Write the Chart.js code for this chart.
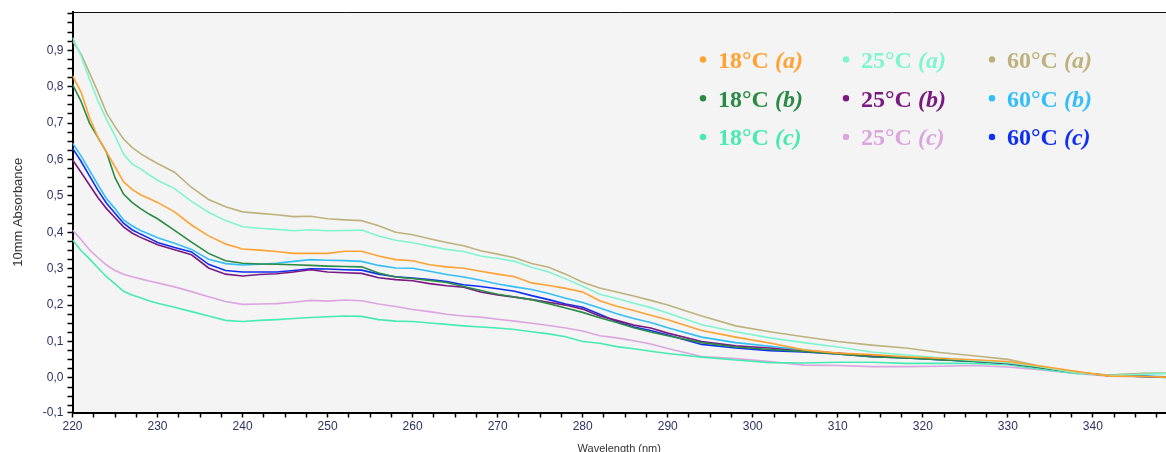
<!DOCTYPE html>
<html>
<head>
<meta charset="utf-8">
<title>Absorbance spectra</title>
<script src="https://cdn.jsdelivr.net/npm/chart.js"></script>
<style>
  html, body { margin: 0; padding: 0; background: #fff; }
  #wrap { width: 1166px; height: 452px; }
</style>
</head>
<body>
<div id="wrap"><canvas id="spectra" width="1166" height="452"></canvas></div>
<script>
// wavelengths (nm)
var wavelengths = [220, 221, 222, 223, 224, 225, 226, 227, 228, 229, 230,
  232, 234, 236, 238, 240, 242, 244, 246, 248, 250, 252, 254, 256, 258, 260,
  262, 264, 266, 268, 270, 272, 274, 276, 278, 280, 282, 284, 286, 288, 290,
  294, 298, 302, 306, 310, 314, 318, 322, 326, 330, 334, 338, 342, 346, 349];

var seriesNames = ['18°C (a)', '25°C (a)', '60°C (a)',
                   '18°C (b)', '25°C (b)', '60°C (b)',
                   '18°C (c)', '25°C (c)', '60°C (c)'];

// absorbance, 10 mm path
var abs18a = [0.83, 0.785, 0.715, 0.66, 0.62, 0.58, 0.539, 0.518, 0.503, 0.493, 0.482,
  0.456, 0.420, 0.390, 0.368, 0.354, 0.351, 0.347, 0.342, 0.342, 0.342, 0.348, 0.348, 0.335, 0.325, 0.322,
  0.311, 0.305, 0.301, 0.293, 0.285, 0.278, 0.261, 0.254, 0.246, 0.236, 0.212, 0.197, 0.185, 0.172, 0.160,
  0.130, 0.112, 0.096, 0.077, 0.068, 0.064, 0.058, 0.054, 0.050, 0.045, 0.032, 0.018, 0.005, 0.004, 0.002];
var abs25a = [0.935, 0.885, 0.82, 0.76, 0.71, 0.665, 0.615, 0.588, 0.574, 0.558, 0.543,
  0.520, 0.485, 0.455, 0.432, 0.415, 0.411, 0.408, 0.404, 0.407, 0.404, 0.405, 0.406, 0.390, 0.378, 0.371,
  0.362, 0.353, 0.347, 0.335, 0.328, 0.320, 0.304, 0.291, 0.272, 0.252, 0.230, 0.218, 0.205, 0.193, 0.178,
  0.146, 0.127, 0.110, 0.097, 0.085, 0.071, 0.063, 0.055, 0.048, 0.042, 0.030, 0.014, 0.006, 0.010, 0.012];
var abs60a = [0.925, 0.89, 0.838, 0.785, 0.728, 0.69, 0.656, 0.633, 0.616, 0.602, 0.589,
  0.565, 0.523, 0.490, 0.470, 0.456, 0.452, 0.448, 0.443, 0.444, 0.437, 0.434, 0.432, 0.418, 0.400, 0.393,
  0.382, 0.372, 0.363, 0.349, 0.340, 0.330, 0.314, 0.304, 0.285, 0.263, 0.247, 0.236, 0.225, 0.213, 0.200,
  0.170, 0.143, 0.127, 0.113, 0.100, 0.090, 0.082, 0.070, 0.061, 0.051, 0.031, 0.014, 0.008, 0.013, 0.013];
var abs18b = [0.806, 0.76, 0.70, 0.66, 0.62, 0.55, 0.505, 0.482, 0.465, 0.450, 0.437,
  0.405, 0.373, 0.342, 0.322, 0.315, 0.313, 0.312, 0.311, 0.309, 0.307, 0.306, 0.305, 0.288, 0.277, 0.273,
  0.268, 0.262, 0.251, 0.240, 0.230, 0.222, 0.215, 0.204, 0.192, 0.180, 0.165, 0.152, 0.138, 0.126, 0.116,
  0.097, 0.085, 0.078, 0.073, 0.066, 0.058, 0.055, 0.050, 0.046, 0.041, 0.028, 0.016, 0.006, 0.004, 0.001];
var abs25b = [0.599, 0.565, 0.53, 0.495, 0.465, 0.44, 0.415, 0.398, 0.386, 0.376, 0.366,
  0.352, 0.338, 0.302, 0.285, 0.280, 0.284, 0.286, 0.291, 0.297, 0.291, 0.289, 0.287, 0.275, 0.270, 0.267,
  0.259, 0.253, 0.249, 0.236, 0.228, 0.222, 0.215, 0.208, 0.200, 0.189, 0.170, 0.158, 0.145, 0.137, 0.123,
  0.100, 0.088, 0.082, 0.073, 0.068, 0.060, 0.056, 0.051, 0.046, 0.040, 0.028, 0.015, 0.006, 0.004, 0.002];
var abs60b = [0.645, 0.61, 0.57, 0.53, 0.492, 0.465, 0.434, 0.418, 0.405, 0.395, 0.385,
  0.370, 0.353, 0.326, 0.314, 0.310, 0.312, 0.315, 0.320, 0.325, 0.323, 0.322, 0.320, 0.309, 0.302, 0.301,
  0.293, 0.284, 0.277, 0.268, 0.258, 0.250, 0.243, 0.232, 0.219, 0.207, 0.192, 0.176, 0.163, 0.152, 0.138,
  0.112, 0.097, 0.087, 0.077, 0.067, 0.060, 0.056, 0.050, 0.046, 0.040, 0.029, 0.016, 0.006, 0.005, 0.003];
var abs18c = [0.379, 0.35, 0.327, 0.302, 0.278, 0.258, 0.238, 0.228, 0.22, 0.212, 0.205,
  0.194, 0.182, 0.170, 0.158, 0.155, 0.158, 0.160, 0.163, 0.166, 0.168, 0.170, 0.169, 0.160, 0.156, 0.155,
  0.151, 0.147, 0.143, 0.140, 0.137, 0.133, 0.127, 0.121, 0.113, 0.100, 0.095, 0.086, 0.080, 0.073, 0.067,
  0.057, 0.049, 0.042, 0.041, 0.043, 0.043, 0.040, 0.040, 0.040, 0.036, 0.024, 0.012, 0.008, 0.012, 0.013];
var abs25c = [0.406, 0.38, 0.352, 0.33, 0.31, 0.295, 0.285, 0.278, 0.272, 0.266, 0.261,
  0.250, 0.237, 0.223, 0.210, 0.202, 0.203, 0.204, 0.208, 0.213, 0.211, 0.214, 0.212, 0.203, 0.196, 0.188,
  0.182, 0.175, 0.170, 0.167, 0.161, 0.156, 0.150, 0.144, 0.137, 0.129, 0.116, 0.110, 0.102, 0.093, 0.081,
  0.059, 0.053, 0.045, 0.035, 0.034, 0.031, 0.031, 0.032, 0.034, 0.030, 0.022, 0.012, 0.005, 0.004, 0.003];
var abs60c = [0.631, 0.595, 0.555, 0.515, 0.48, 0.452, 0.425, 0.407, 0.395, 0.384, 0.372,
  0.358, 0.346, 0.312, 0.295, 0.291, 0.291, 0.291, 0.295, 0.300, 0.299, 0.297, 0.296, 0.285, 0.278, 0.274,
  0.270, 0.265, 0.256, 0.251, 0.245, 0.238, 0.226, 0.215, 0.203, 0.194, 0.175, 0.155, 0.140, 0.130, 0.118,
  0.092, 0.082, 0.075, 0.071, 0.066, 0.058, 0.055, 0.050, 0.045, 0.040, 0.028, 0.015, 0.006, 0.004, 0.002];

var xMajorTicks = [220, 230, 240, 250, 260, 270, 280, 290, 300, 310, 320, 330, 340];
var yMajorTicks = [0, 0.1, 0.2, 0.3, 0.4, 0.5, 0.6, 0.7, 0.8, 0.9];

var allSeries = [abs18a, abs25a, abs60a, abs18b, abs25b, abs60b, abs18c, abs25c, abs60c];
var colors = ['#ffa232', '#7ff5cf', '#bdb27e',
              '#2b8a45', '#7a1a80', '#33bff5',
              '#48eab2', '#dba5de', '#1030f0'];

function toPoints(values) {
  return values.map(function (v, i) { return { x: wavelengths[i], y: v }; });
}

var datasets = allSeries.map(function (vals, i) {
  return {
    label: seriesNames[i],
    data: toPoints(vals),
    borderColor: colors[i],
    backgroundColor: colors[i],
    borderWidth: 1.6,
    pointRadius: 0,
    tension: 0,
    fill: false
  };
});

// grey plot background + thin top frame
var frame = {
  id: 'frame',
  beforeDraw: function (chart) {
    var c = chart.ctx, a = chart.chartArea;
    c.save();
    c.fillStyle = '#ffffff';
    c.fillRect(0, 0, chart.width, chart.height);
    c.fillStyle = '#f4f4f4';
    c.fillRect(a.left, a.top, a.right - a.left, a.bottom - a.top);
    c.restore();
  },
  afterDraw: function (chart) {
    var c = chart.ctx, a = chart.chartArea;
    c.save();
    c.strokeStyle = '#111';
    c.lineWidth = 1;
    c.beginPath();
    c.moveTo(a.left, a.top + 0.5);
    c.lineTo(a.right, a.top + 0.5);
    c.stroke();
    c.restore();
  }
};

// 3x3 legend inside the plot, bold serif with italic replicate letter
var gridLegend = {
  id: 'gridLegend',
  afterDraw: function (chart, args, opts) {
    var c = chart.ctx;
    c.save();
    chart.data.datasets.forEach(function (ds, i) {
      var col = i % 3, row = Math.floor(i / 3);
      var mx = opts.cols[col], my = opts.top + row * opts.rowGap;
      var parts = ds.label.split(' ');
      c.fillStyle = ds.borderColor;
      c.beginPath();
      c.arc(mx, my, 3.2, 0, Math.PI * 2);
      c.fill();
      c.textBaseline = 'alphabetic';
      c.font = 'bold 24px "Liberation Serif", "Times New Roman", serif';
      var tx = mx + 15;
      c.fillText(parts[0], tx, my + 8.5);
      tx += c.measureText(parts[0] + ' ').width;
      c.font = 'italic bold 24px "Liberation Serif", "Times New Roman", serif';
      c.fillText(parts[1], tx, my + 8.5);
    });
    c.restore();
  }
};

var tickFont = { family: '"Liberation Sans", Arial, sans-serif', size: 12 };

var ctx = document.getElementById('spectra').getContext('2d');
var chart = new Chart(ctx, {
  type: 'line',
  data: { datasets: datasets },
  options: {
    responsive: false,
    animation: false,
    devicePixelRatio: 1,
    layout: { padding: { top: 12, right: 0, left: 0, bottom: 0 } },
    plugins: {
      legend: { display: false },
      tooltip: { enabled: false },
      gridLegend: { cols: [703, 846, 992], top: 59.5, rowGap: 38.7 }
    },
    scales: {
      x: {
        type: 'linear',
        min: 220,
        max: 348.6,
        afterBuildTicks: function (scale) {
          var t = [];
          for (var v = 220; v <= 348; v += 2.5) {
            t.push({ value: v, minor: xMajorTicks.indexOf(v) < 0 });
          }
          scale.ticks = t;
        },
        afterFit: function (scale) { scale.height = 39.5; },
        grid: { drawOnChartArea: false, drawTicks: true, tickLength: 5, tickColor: '#000', tickWidth: 1.5 },
        border: { display: true, color: '#000', width: 2 },
        ticks: {
          autoSkip: false,
          maxRotation: 0,
          padding: 2,
          color: '#2d3263',
          font: tickFont,
          callback: function (value, index, ticks) {
            return ticks[index].minor ? '' : String(value);
          }
        },
        title: {
          display: true,
          text: 'Wavelength (nm)',
          color: '#333',
          font: { family: '"Liberation Sans", Arial, sans-serif', size: 11 },
          padding: { top: 0, bottom: -4 }
        }
      },
      y: {
        type: 'linear',
        min: -0.095,
        max: 1.005,
        afterBuildTicks: function (scale) {
          var t = [{ value: -0.095, minor: false }];
          for (var k = -3; k <= 40; k++) {
            var v = Math.round(k * 25) / 1000;
            t.push({ value: v, minor: yMajorTicks.indexOf(v) < 0 });
          }
          scale.ticks = t;
        },
        afterFit: function (scale) { scale.width = 72.5; },
        grid: { drawOnChartArea: false, drawTicks: true, tickLength: 5, tickColor: '#000', tickWidth: 1.5 },
        border: { display: true, color: '#000', width: 2 },
        ticks: {
          autoSkip: false,
          padding: 4,
          color: '#2d3263',
          font: tickFont,
          callback: function (value, index, ticks) {
            if (ticks[index].minor) return '';
            return (Math.round(value * 10) / 10).toFixed(1).replace('.', ',');
          }
        },
        title: {
          display: true,
          text: '10mm Absorbance',
          color: '#333',
          font: { family: '"Liberation Sans", Arial, sans-serif', size: 13 },
          padding: { top: 11, bottom: 0 }
        }
      }
    }
  },
  plugins: [frame, gridLegend]
});
</script>
</body>
</html>
